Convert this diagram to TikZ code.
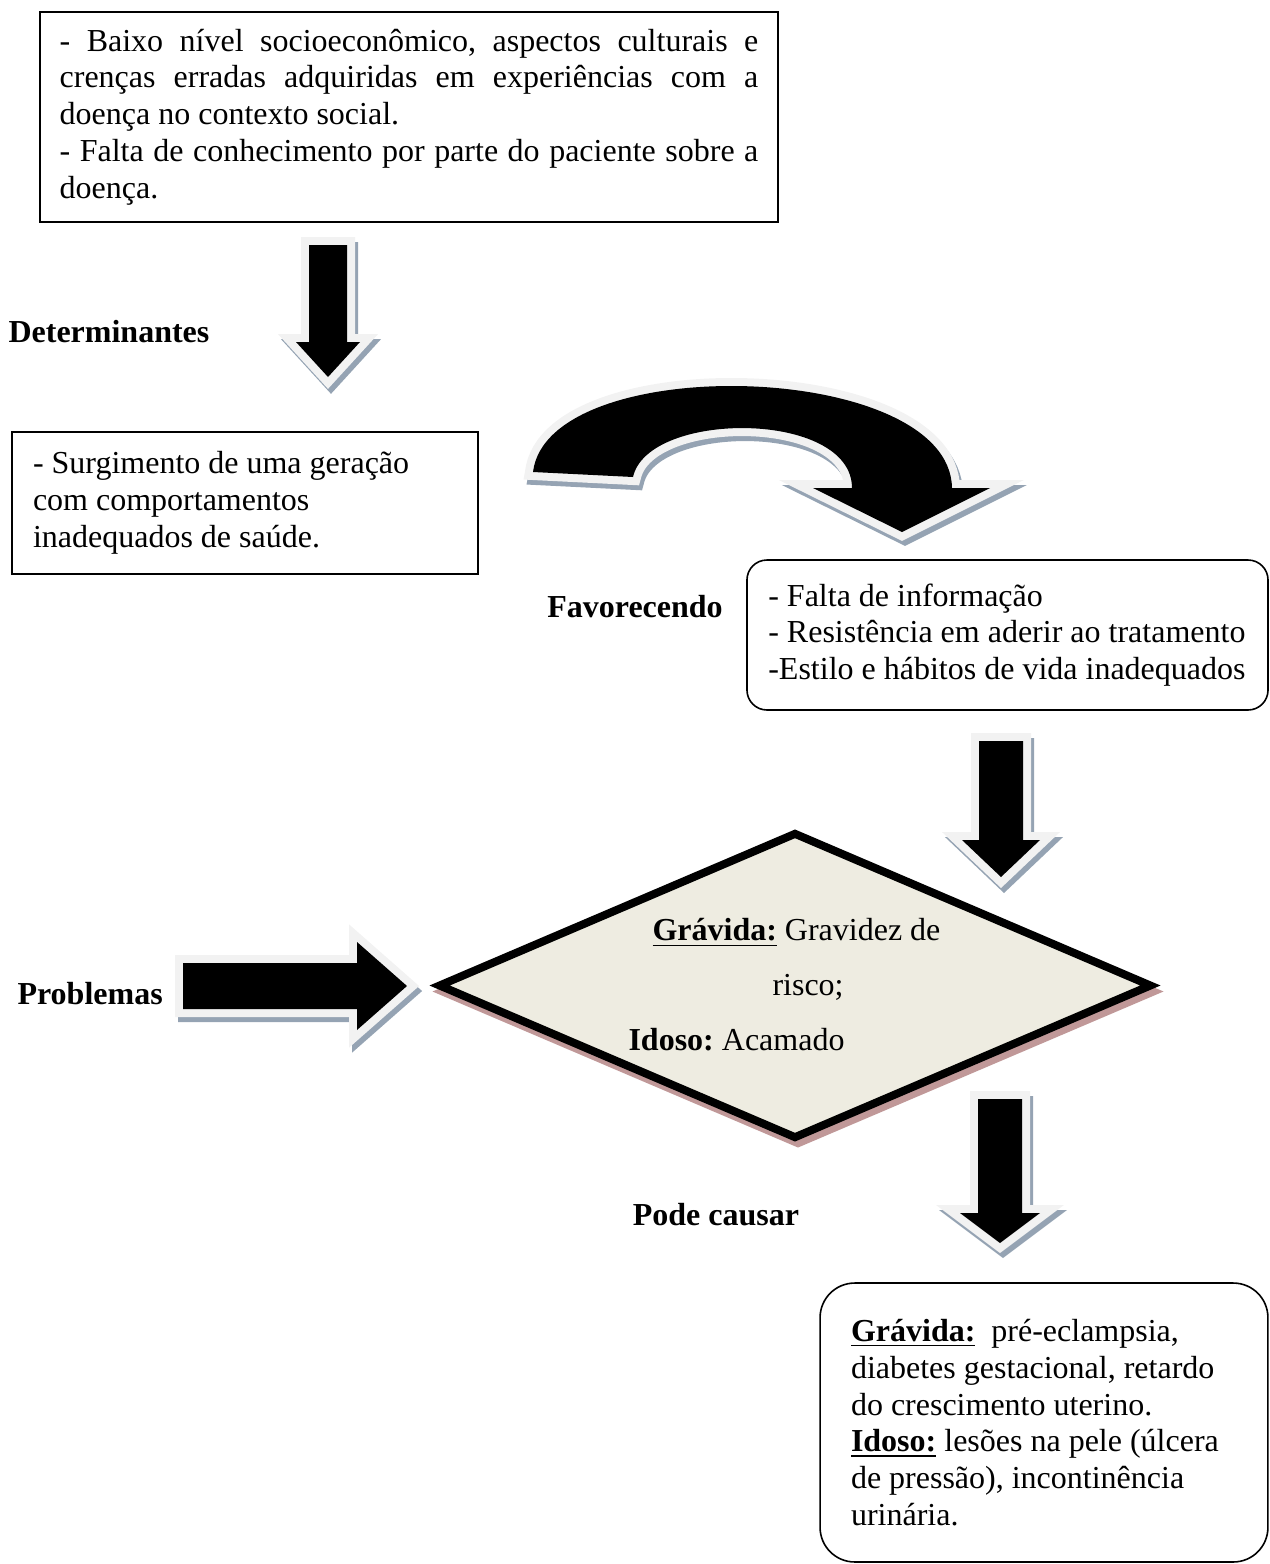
\documentclass[tikz,border=0pt]{standalone}
\usepackage{fontspec}
\setmainfont{Liberation Serif}
\usepackage{xcolor}
\usetikzlibrary{shapes.geometric}

\definecolor{arrowrim}{RGB}{242,242,242}
\definecolor{arrowshade}{RGB}{149,163,179}
\definecolor{diamfill}{RGB}{238,236,225}
\definecolor{diamshade}{RGB}{192,152,152}

\hyphenpenalty=10000
\frenchspacing

\tikzset{
  txt/.style={font=\fontsize{12}{13.8}\selectfont},
  lbl/.style={font=\fontsize{12}{13.8}\selectfont\bfseries, inner sep=0pt},
  box/.style={txt, draw, line width=0.6pt, inner ysep=0pt},
  blockarrow/.style={fill=black,
    preaction={fill=arrowshade, draw=arrowshade, line width=6pt, transform canvas={shift={(3,5)}}},
    preaction={draw=arrowrim, line width=6pt}},
  riskshape/.style={diamond, draw, line width=3pt, fill=diamfill, inner sep=0pt,
    preaction={fill=diamshade, draw=diamshade, line width=3pt, transform canvas={shift={(3,6)}}}}
}

\begin{document}
\begin{tikzpicture}[x=0.375pt, y=-0.375pt]
      \useasboundingbox (0,0) rectangle (1269,1564);
      % block arrows
      \path [blockarrow] (309,245) -- (347,245) -- (347,342) -- (360,342) -- (328,377) -- (296,342) -- (309,342) -- cycle;
      \path [blockarrow] (533,472) .. controls (548,350) and (950,360) .. (952,488) -- (990,488) -- (902,532) -- (813,488) -- (852,488) .. controls (852,410) and (648,410) .. (633,477) -- cycle;
      \path [blockarrow] (979,741) -- (1023,741) -- (1023,840) -- (1040,840) -- (1001,877) -- (962,840) -- (979,840) -- cycle;
      \path [blockarrow] (183,963) -- (357,963) -- (357,942) -- (407,986) -- (357,1030) -- (357,1009) -- (183,1009) -- cycle;
      \path [blockarrow] (978,1099) -- (1022,1099) -- (1022,1213) -- (1040,1213) -- (1000,1243) -- (960,1213) -- (978,1213) -- cycle;

      \node [box, text width=262pt, inner xsep=7.3pt, minimum height=78.75pt, align=justify]  (causas) at (409, 117)
            {- Baixo nível socioeconômico, aspectos culturais e\linebreak crenças erradas adquiridas em experiências com a\linebreak doença no contexto social.\\- Falta de conhecimento por parte do paciente sobre a\linebreak doença.};
      \node [lbl, anchor=west]  (determ) at (8, 332) {Determinantes};
      \node [box, text width=159pt, inner xsep=7.9pt, minimum height=53.25pt, align=flush left]  (geracao) at (245, 503)
            {- Surgimento de uma geração\\com comportamentos\\inadequados de saúde.};
      \node [lbl]  (favor) at (635, 607) {Favorecendo};
      \node [box, rounded corners=7.5pt, text width=179.4pt, inner xsep=8pt, minimum height=56.25pt, align=flush left]  (habitos) at (1007.5, 635)
            {- Falta de informação\\- Resistência em aderir ao tratamento\\-Estilo e hábitos de vida inadequados};
      \node [lbl, anchor=west]  (probl) at (17, 994) {Problemas};
      \node [riskshape, minimum width=267.75pt, minimum height=115pt]  (risco) at (795, 985.5) {};
      \node [txt, font=\fontsize{12}{20.6}\selectfont, align=flush left, anchor=west, inner sep=0pt]  (riscotxt) at (628, 985)
            {\hspace*{9pt}\underline{\textbf{Grávida:}} Gravidez de\\\hspace*{54pt}risco;\\\textbf{Idoso:} Acamado};
      \node [lbl]  (causar) at (716, 1215) {Pode causar};
      \node [box, rounded corners=13pt, text width=144.75pt, inner xsep=11.6pt, minimum height=104.6pt, align=flush left]  (efeitos) at (1044, 1422.5)
            {\underline{\textbf{Grávida:}}\ \ pré-eclampsia,\\diabetes gestacional, retardo\\do crescimento uterino.\\\underline{\textbf{Idoso:}} lesões na pele (úlcera\\de pressão), incontinência\\urinária.};
\end{tikzpicture}
\end{document}
